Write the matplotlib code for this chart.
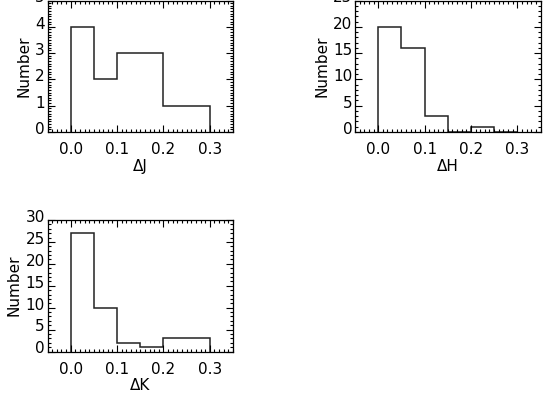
import matplotlib
matplotlib.use("Agg")
import matplotlib.pyplot as plt
from matplotlib.ticker import MultipleLocator
from matplotlib.transforms import ScaledTranslation

plt.rcParams['font.family'] = ['DejaVu Sans']
plt.rcParams['font.size'] = 11

bin_edges = [0.0, 0.05, 0.10, 0.15, 0.20, 0.25, 0.30]
counts_J = [4, 2, 3, 3, 1, 1]
counts_H = [20, 16, 3, 0, 1, 0]
counts_K = [27, 10, 2, 1, 3, 3]
xlabels = ['ΔJ', 'ΔH', 'ΔK']
ylims = [5, 25, 30]
ymajor = [1, 5, 5]
yminor = [0.1, 1, 1]
xticks = [0.0, 0.1, 0.2, 0.3]

W, H = 543, 393
fig = plt.figure(figsize=(W / 100, H / 100), dpi=100)

rects = [
    (47.5 / W, 1 - 132 / H, 185.5 / W, 131.5 / H),
    (355 / W, 1 - 132 / H, 185.5 / W, 131.5 / H),
    (47.5 / W, 1 - 351.5 / H, 185.5 / W, 131.5 / H),
]

for rect, counts, xl, ylim, ymj, ymn in zip(rects, [counts_J, counts_H, counts_K],
                                            xlabels, ylims, ymajor, yminor):
    ax = fig.add_axes(rect)
    ax.stairs(counts, bin_edges, baseline=0, fill=False, color='#222222', lw=1.1)
    ax.set_xlim(-0.05, 0.35)
    ax.set_ylim(0, ylim)
    ax.set_xticks(xticks)
    ax.set_xticklabels(['%.1f' % t for t in xticks])
    ax.xaxis.set_minor_locator(MultipleLocator(0.01))
    ax.yaxis.set_major_locator(MultipleLocator(ymj))
    ax.yaxis.set_minor_locator(MultipleLocator(ymn))
    ax.tick_params(which='both', direction='in', top=True, right=True,
                   labelsize=11, width=0.8, color='black')
    ax.tick_params(which='major', length=5)
    ax.tick_params(which='minor', length=2.5)
    ax.tick_params(axis='x', pad=7.5)
    ax.tick_params(axis='y', pad=2)
    for s in ax.spines.values():
        s.set_linewidth(0.9)
    ax.set_xlabel(xl, fontsize=11, labelpad=1)
    ax.set_ylabel('Number', fontsize=11, labelpad=2.5)
    for lab in ax.get_yticklabels():
        lab.set_transform(lab.get_transform() + ScaledTranslation(0, 3 / 72, fig.dpi_scale_trans))

fig.savefig('out.png', dpi=100)
